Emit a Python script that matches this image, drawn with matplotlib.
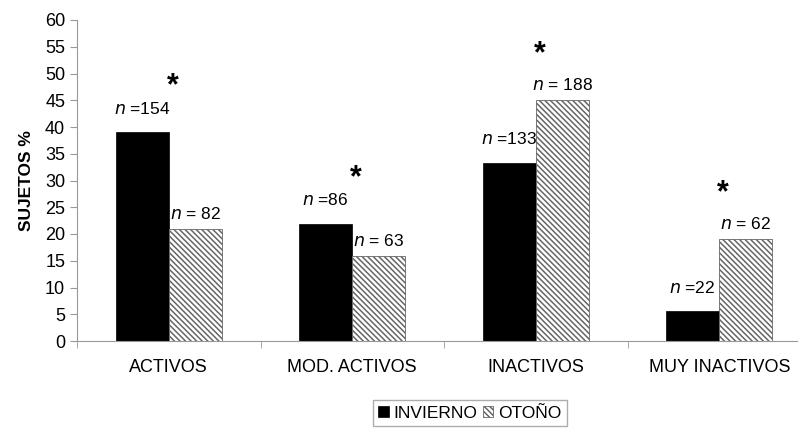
import numpy as np
import matplotlib
matplotlib.use("Agg")
import matplotlib.pyplot as plt

# ── Datos ─────────────────────────────────────────────────────────────────
CATEGORIAS = ["ACTIVOS", "MOD. ACTIVOS", "INACTIVOS", "MUY INACTIVOS"]
INVIERNO   = [39.0, 21.9, 33.3, 5.6]
OTONO      = [20.9, 15.9, 45.0, 19.1]
N_INVIERNO = [154, 86, 133, 22]
N_OTONO    = [82, 63, 188, 62]
# ───────────────────────────────────────────────────────────────────────────

plt.rcParams['font.family'] = ['Liberation Sans', 'DejaVu Sans']
plt.rcParams['hatch.linewidth'] = 1.1
plt.rcParams['hatch.color'] = '#2a2a2a'

fig = plt.figure(figsize=(7.98, 4.30), dpi=100)
ax = fig.add_axes([77 / 798, 89 / 430, 734 / 798, 321 / 430])

x = np.arange(len(CATEGORIAS))
ancho = 0.29

ax.bar(x - ancho / 2, INVIERNO, ancho, color='black', edgecolor='black',
       linewidth=0.5, label='INVIERNO')
ax.bar(x + ancho / 2, OTONO, ancho, color='white', edgecolor='#666666',
       linewidth=0.6, hatch='\\' * 6, label='OTOÑO')

for i in range(len(CATEGORIAS)):
    ax.text(x[i] - ancho / 2, INVIERNO[i] + 2.9, rf"$n$ ={N_INVIERNO[i]}",
            ha='center', va='bottom', fontsize=12.5)
    ax.text(x[i] + ancho / 2, OTONO[i] + 1.3, rf"$n$ = {N_OTONO[i]}",
            ha='center', va='bottom', fontsize=12.5)
    tope = max(INVIERNO[i], OTONO[i])
    ax.text(x[i] + 0.02, tope + 8.6, "*", ha='center', va='center',
            fontsize=22, fontweight='bold')

ax.set_xlim(-0.5, len(CATEGORIAS) - 0.5)
ax.set_ylim(0, 60)
ax.set_yticks(np.arange(0, 61, 5))
ax.set_xticks(x)
ax.set_xticklabels(CATEGORIAS, fontsize=13)
ax.set_xticks(np.arange(-0.5, len(CATEGORIAS), 1), minor=True)
ax.tick_params(axis='x', which='major', length=0, pad=13)
ax.tick_params(axis='x', which='minor', length=5, color='#999999')
ax.tick_params(axis='y', length=5, color='#999999', labelsize=13)
ax.set_ylabel("SUJETOS %", fontsize=12.5, fontweight='bold', labelpad=8)

for lado in ['top', 'right']:
    ax.spines[lado].set_visible(False)
for lado in ['left', 'bottom']:
    ax.spines[lado].set_color('#999999')

fig.legend(loc='center', bbox_to_anchor=(470 / 798, 1 - 413 / 430), ncol=2,
           fontsize=12.5, handlelength=0.6, handleheight=0.6, handletextpad=0.3,
           columnspacing=0.3, frameon=True, fancybox=False, edgecolor='#999999',
           borderpad=0.3)

fig.savefig("out.png", dpi=100)
